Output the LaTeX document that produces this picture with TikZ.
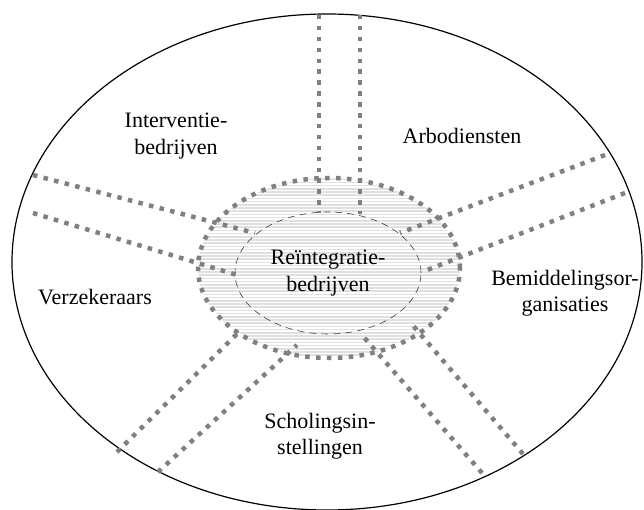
\documentclass[tikz,border=0pt]{standalone}
\usepackage{fontspec}
\setmainfont{Liberation Serif}
\begin{document}
\begin{tikzpicture}[x=1pt,y=-1pt,
  spoke/.style={draw=black!50, line width=4.5pt, dash pattern=on 4.5pt off 6.4pt},
  lbl/.style={align=center, inner sep=0pt, font=\fontsize{22}{26.5}\selectfont}]
\useasboundingbox (0,0) rectangle (644,510);
% outer ellipse
\coordinate (oc) at (327,262);
\draw[line width=1.2pt] (oc) ellipse [x radius=315pt, y radius=248pt];
% hatched core
\coordinate (ic) at (329,268);
\begin{scope}
  \clip (ic) ellipse [x radius=131pt, y radius=90pt];
  \foreach \yy in {176,179.2,...,362} \draw[black!12, line width=1.7pt] (190,\yy) -- (470,\yy);
\end{scope}
% thin dashed inner ellipse
\coordinate (dc) at (328,273);
\draw[black!75, line width=0.6pt, dash pattern=on 7pt off 5pt] (dc) ellipse [x radius=93pt, y radius=61pt];
% thick dotted ellipse
\draw[spoke] (ic) ellipse [x radius=131pt, y radius=90pt];
% spoke end points
\coordinate (t1o) at (319,15);  \coordinate (t1i) at (319,213);
\coordinate (t2o) at (360,15);  \coordinate (t2i) at (360,214);
\coordinate (l1o) at (33,175);  \coordinate (l1i) at (255,233);
\coordinate (l2o) at (33,213);  \coordinate (l2i) at (237,275);
\coordinate (r1o) at (605,155); \coordinate (r1i) at (400,233);
\coordinate (r2o) at (625,193); \coordinate (r2i) at (422,272);
\coordinate (a1o) at (117,452); \coordinate (a1i) at (240,331);
\coordinate (a2o) at (158,472); \coordinate (a2i) at (297,345);
\coordinate (b1o) at (482,473); \coordinate (b1i) at (362,335);
\coordinate (b2o) at (523,454); \coordinate (b2i) at (410,322);
\foreach \s in {t1,t2,l1,l2,r1,r2,a1,a2,b1,b2} \draw[spoke] (\s o) -- (\s i);
% labels
\node[lbl] (rein) at (328,273) {Reïntegratie-\\bedrijven};
\node[lbl] (inter) at (176,136) {Interventie-\\bedrijven};
\node[lbl, anchor=base] (arbo) at (462,144) {Arbodiensten};
\node[lbl, anchor=base] (verz) at (95,304) {Verzekeraars};
\node[lbl] (bemi) at (565,293) {Bemiddelingsor-\\ganisaties};
\node[lbl] (scho) at (320,436) {Scholingsin-\\stellingen};
\end{tikzpicture}
\end{document}
